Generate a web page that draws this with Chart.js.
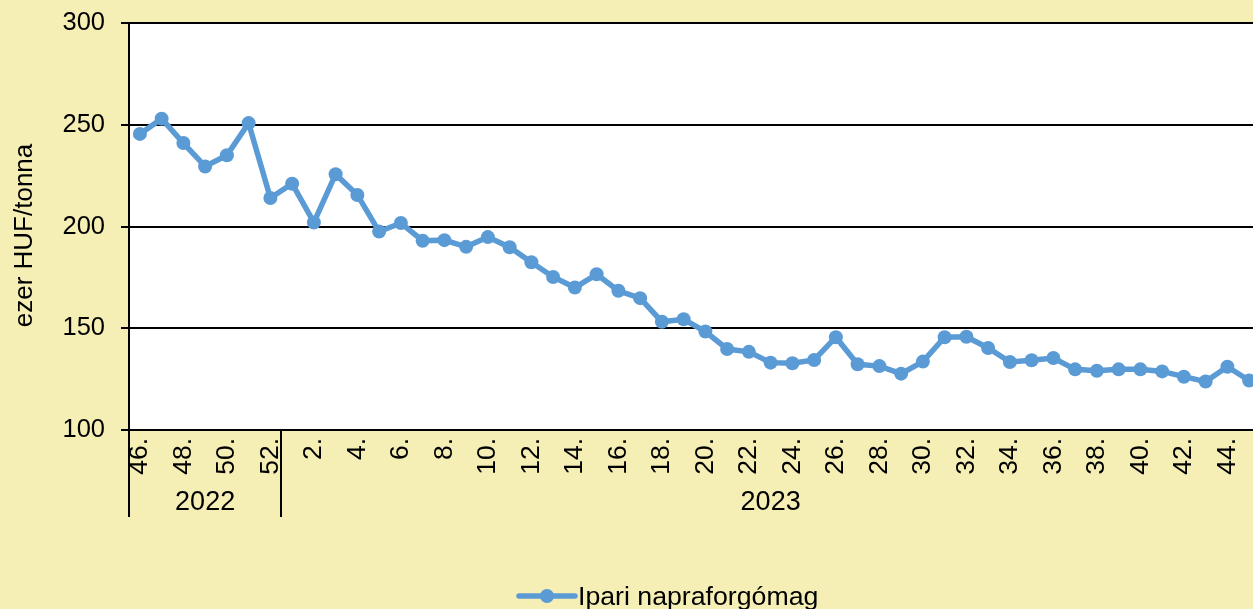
<!DOCTYPE html>
<html>
<head>
<meta charset="utf-8">
<script src="https://cdn.jsdelivr.net/npm/chart.js@4.4.1/dist/chart.umd.min.js"></script>
<style>
    html, body {
        margin: 0;
        padding: 0;
        background: #F5EFB5;
        overflow: hidden;
    }
    #wrap {
        width: 1267px;
        height: 609px;
    }
</style>
</head>
<body>
<div id="wrap"><canvas id="priceChart" width="1267" height="609"></canvas></div>
<script>
// Heti adatok: 2022. 46. hét - 2023. 45. hét
const weekLabels = ['46.', '47.', '48.', '49.', '50.', '51.', '52.',
    '1.', '2.', '3.', '4.', '5.', '6.', '7.', '8.', '9.', '10.',
    '11.', '12.', '13.', '14.', '15.', '16.', '17.', '18.', '19.', '20.',
    '21.', '22.', '23.', '24.', '25.', '26.', '27.', '28.', '29.', '30.',
    '31.', '32.', '33.', '34.', '35.', '36.', '37.', '38.', '39.', '40.',
    '41.', '42.', '43.', '44.', '45.'];
const prices = [245.5, 253, 241, 229.5, 235, 250.8, 214,
    221, 202, 225.7, 215.5, 197.5, 201.7, 193, 193.3, 190, 194.8,
    189.8, 182.4, 175.2, 170, 176.5, 168.4, 164.8, 153.2, 154.4, 148.4,
    139.8, 138.4, 133.1, 132.8, 134.4, 145.6, 132.3, 131.4, 127.7, 133.6,
    145.6, 145.8, 140.3, 133.4, 134.3, 135.4, 129.8, 129.1, 129.8, 129.8,
    128.8, 126.2, 123.8, 131.1, 124.3];
const years = ['2022', '2023'];
const yearSpans = [7, 45];
const yMin = 100;
const yMax = 300;
const yStep = 50;

const seriesName = 'Ipari napraforgómag';
const axisTitle = 'ezer HUF/tonna';
const lineColor = '#5B9BD5';
const fontFamily = '"Liberation Sans", Arial, sans-serif';

// Plot background, year groups, axis title and legend
const decorPlugin = {
    id: 'decor',
    beforeDraw(chart) {
        const { ctx, chartArea } = chart;
        ctx.save();
        ctx.fillStyle = '#FFFFFF';
        ctx.fillRect(chartArea.left, chartArea.top, chartArea.right - chartArea.left, chartArea.bottom - chartArea.top);
        ctx.restore();
    },
    afterDraw(chart) {
        const { ctx, chartArea } = chart;
        const xScale = chart.scales.x;
        const half = (xScale.getPixelForValue(1) - xScale.getPixelForValue(0)) / 2;

        ctx.save();
        ctx.strokeStyle = '#000000';
        ctx.lineWidth = 2;
        ctx.fillStyle = '#000000';
        ctx.font = '27px ' + fontFamily;
        ctx.textAlign = 'center';
        ctx.textBaseline = 'middle';

        let start = 0;
        const edges = [xScale.getPixelForValue(0) - half];
        years.forEach((year, i) => {
            const end = start + yearSpans[i];
            const x0 = xScale.getPixelForValue(start) - half;
            const x1 = xScale.getPixelForValue(end - 1) + half;
            edges.push(x1);
            ctx.fillText(year, (x0 + x1) / 2, chartArea.bottom + 73);
            start = end;
        });
        edges.forEach(x => {
            const xr = Math.round(x);
            ctx.beginPath();
            ctx.moveTo(xr, chartArea.bottom);
            ctx.lineTo(xr, chartArea.bottom + 87);
            ctx.stroke();
        });

        // y axis title
        ctx.save();
        ctx.font = '26px ' + fontFamily;
        ctx.translate(25, (chartArea.top + chartArea.bottom) / 2 + 9);
        ctx.rotate(-Math.PI / 2);
        ctx.fillText(axisTitle, 0, 0);
        ctx.restore();

        // legend
        const ds = chart.data.datasets[0];
        const legendY = 596;
        const lineStart = 519;
        const lineEnd = 575;
        ctx.strokeStyle = ds.borderColor;
        ctx.lineWidth = ds.borderWidth;
        ctx.lineCap = 'round';
        ctx.beginPath();
        ctx.moveTo(lineStart, legendY);
        ctx.lineTo(lineEnd, legendY);
        ctx.stroke();
        ctx.fillStyle = ds.pointBackgroundColor;
        ctx.beginPath();
        ctx.arc((lineStart + lineEnd) / 2, legendY, ds.pointRadius, 0, Math.PI * 2);
        ctx.fill();
        ctx.fillStyle = '#000000';
        ctx.font = '26.7px ' + fontFamily;
        ctx.textAlign = 'left';
        ctx.textBaseline = 'alphabetic';
        ctx.fillText(ds.label, 578, 605);
        ctx.restore();
    }
};

const ctx = document.getElementById('priceChart');
new Chart(ctx, {
    type: 'line',
    data: {
        labels: weekLabels,
        datasets: [{
            label: seriesName,
            data: prices,
            borderColor: lineColor,
            backgroundColor: lineColor,
            pointBackgroundColor: lineColor,
            pointBorderColor: lineColor,
            borderWidth: 5.5,
            pointRadius: 7,
            pointBorderWidth: 0,
            tension: 0,
            fill: false
        }]
    },
    options: {
        responsive: false,
        devicePixelRatio: 1,
        animation: false,
        layout: {
            padding: { top: 23, right: 0, bottom: 0, left: 0 }
        },
        plugins: {
            legend: { display: false },
            tooltip: { enabled: false }
        },
        scales: {
            x: {
                type: 'category',
                offset: true,
                grid: { display: false, drawTicks: false },
                border: { display: true, color: '#000000', width: 2 },
                ticks: {
                    autoSkip: false,
                    maxRotation: 90,
                    minRotation: 90,
                    padding: 8,
                    color: '#000000',
                    font: { family: fontFamily, size: 26.5 },
                    callback: function(value, index) {
                        return index % 2 === 0 ? weekLabels[index] : '';
                    }
                },
                afterFit: function(scale) {
                    scale.height = 179;
                    scale.paddingLeft = 0;
                    scale.paddingRight = 0;
                }
            },
            y: {
                min: yMin,
                max: yMax,
                ticks: {
                    stepSize: yStep,
                    padding: 16,
                    color: '#000000',
                    font: { family: fontFamily, size: 25.5 }
                },
                grid: {
                    color: '#000000',
                    lineWidth: 2,
                    drawTicks: true,
                    tickLength: 8
                },
                border: { display: true, color: '#000000', width: 2 },
                afterFit: function(scale) {
                    scale.width = 129;
                    scale.paddingTop = 0;
                    scale.paddingBottom = 0;
                }
            }
        }
    },
    plugins: [decorPlugin]
});
</script>
</body>
</html>
